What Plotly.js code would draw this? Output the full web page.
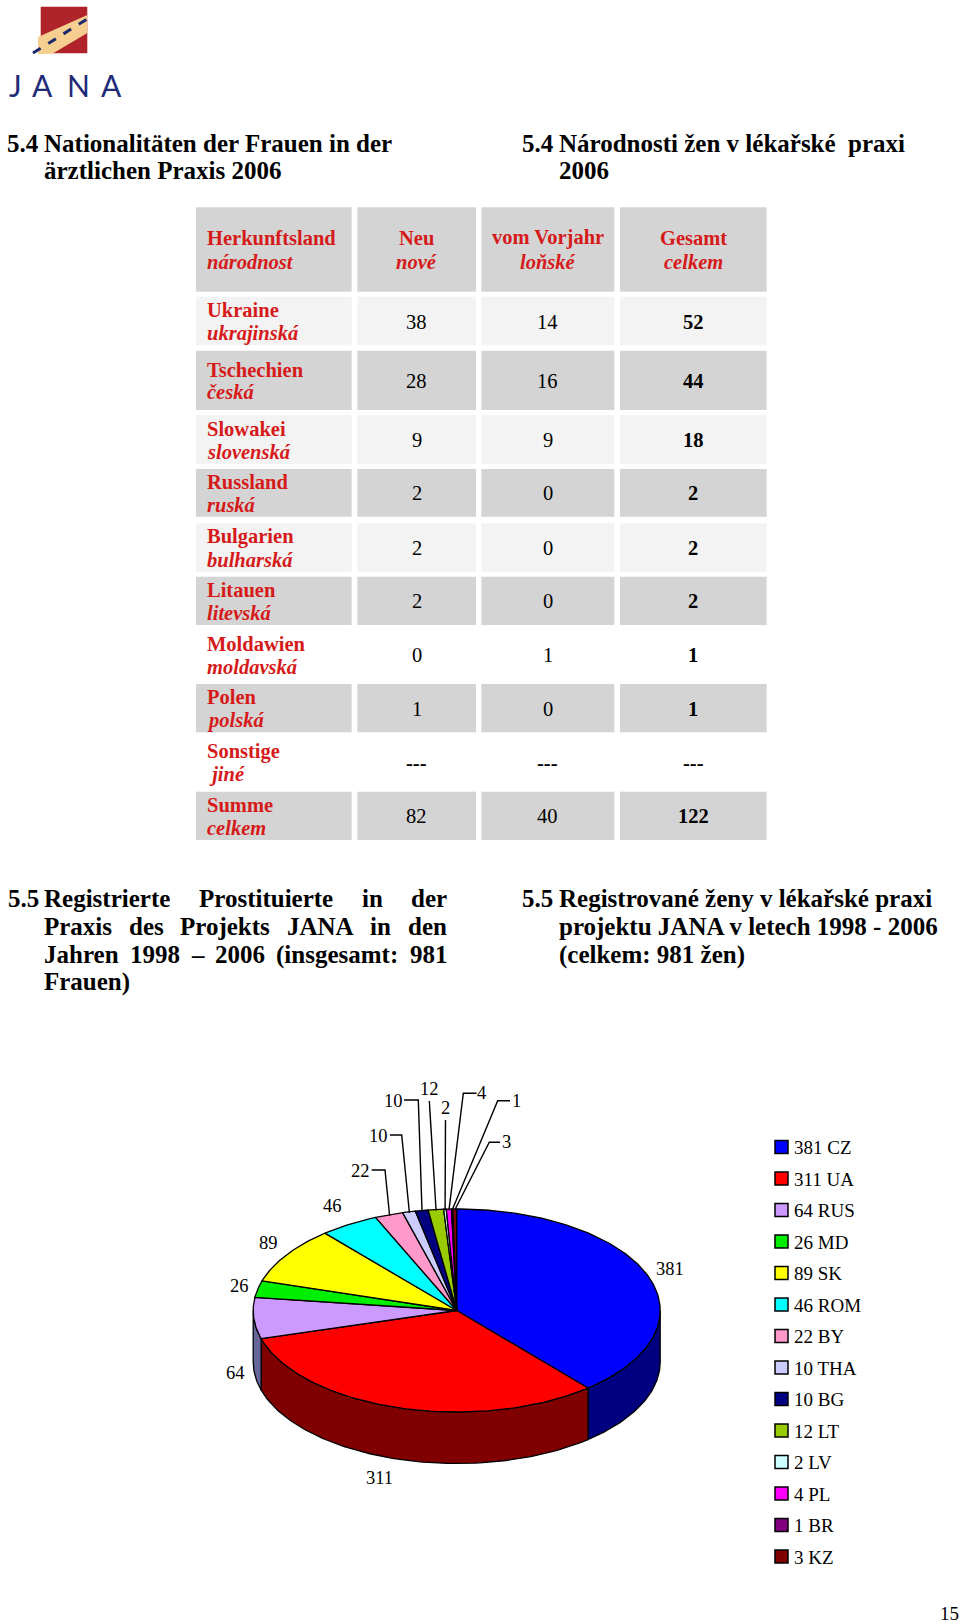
<!DOCTYPE html>
<html><head><meta charset="utf-8">
<script src="https://cdn.plot.ly/plotly-3.0.1.min.js"></script>
<style>html,body{margin:0;padding:0;background:#fff;}#chart{width:960px;height:1624px;}</style>
</head><body><div id="chart"></div>
<script>
// ---------- table data ----------
const headerDe = ["Herkunftsland", "Neu", "vom Vorjahr", "Gesamt"];
const headerCz = ["národnost", "nové", "loňské", "celkem"];
const originDe = ["Ukraine", "Tschechien", "Slowakei", "Russland", "Bulgarien", "Litauen", "Moldawien", "Polen", "Sonstige", "Summe"];
const originCz = ["ukrajinská", "česká", "slovenská", "ruská", "bulharská", "litevská", "moldavská", "polská", "&nbsp;jiné", "celkem"];
const newCount = [38, 28, 9, 2, 2, 2, 0, 1, null, 82];
const prevYear = [14, 16, 9, 0, 0, 0, 1, 0, null, 40];
const totalCount = [52, 44, 18, 2, 2, 2, 1, 1, null, 122];

// ---------- pie data ----------
const pieCodes = ["CZ", "UA", "RUS", "MD", "SK", "ROM", "BY", "THA", "BG", "LT", "LV", "PL", "BR", "KZ"];
const pieValues = [381, 311, 64, 26, 89, 46, 22, 10, 10, 12, 2, 4, 1, 3];

// ---------- styles ----------
const pieColors = ["#0000ff", "#ff0000", "#cc99ff", "#00ee00", "#ffff00", "#00ffff", "#ff99cc", "#ccccff", "#000080", "#99cc00", "#ccffff", "#ff00ff", "#800080", "#800000"];
const pieSideColors = ["#000080", "#800000", "#66669a", "#007700", "#808000", "#008080", "#804c66", "#666680", "#000040", "#4c6600", "#668080", "#800080", "#400040", "#400000"];
const SERIF = '"Liberation Serif", "Times New Roman", serif';
const RED = "#d61a1a", GRAY = "#d4d4d4", LIGHT = "#f3f3f3", WHITE = "#ffffff";

// ---------- layout geometry (pixels) ----------
const tableCols = [[196, 351.7], [357.3, 476], [481.3, 614.3], [620, 766.7]];
const tableHeader = [207.3, 291.7];
const tableRows = [[296.7, 345.3], [350.7, 410], [415, 464], [469, 516.7], [523.3, 571.7], [576.7, 625], [630, 679], [684, 732.3], [737.3, 786.7], [791.7, 840]];
const rowFills = [LIGHT, GRAY, LIGHT, GRAY, LIGHT, GRAY, WHITE, GRAY, WHITE, GRAY];
const PIE = {cx: 456.7, cy: 1310.5, rx: 203.5, ry: 101.5, depth: 51.5};
const labelPos = [[670, 1269], [379, 1478], [235, 1372.5], [239.5, 1286.3], [268.8, 1243.3], [332.5, 1205.8], [360, 1170.7], [378.3, 1136], [393.3, 1100.7], [429.3, 1089.3], [445, 1108.3], [481.7, 1093.3], [516, 1100.7], [506.7, 1141.7]];
const leaderPts = {6: [[371.7, 1170], [385, 1170]], 7: [[390, 1135], [401.7, 1135]], 8: [[404, 1100], [418.3, 1100]], 9: [[429.3, 1101]], 10: [[445.5, 1120]], 11: [[476.5, 1093.3], [463.3, 1093.3]], 12: [[510, 1100.7], [497.7, 1100.7]], 13: [[500, 1142.3], [489.3, 1142.3]]};
const legendX = 775, legendY0 = 1147, legendStep = 31.5;

const shapes = [], annotations = [], traces = [];
function A(x, y, text, o) {
  o = o || {};
  annotations.push({xref: "x", yref: "y", x: x, y: y, text: text, showarrow: false,
    xanchor: o.anchor || "left", yanchor: "middle", borderpad: 0,
    font: {family: o.family || SERIF, size: o.size || 20.5, color: o.color || "#000", weight: o.weight}});
}
const ctx = document.createElement("canvas").getContext("2d");
function measure(t, size) { ctx.font = "bold " + size + "px \"Liberation Serif\""; return ctx.measureText(t).width; }
function justify(words, x0, x1, y, size) {
  const ws = words.map(w => measure(w, size));
  const gap = (x1 - x0 - ws.reduce((a, b) => a + b, 0)) / (words.length - 1);
  let x = x0;
  words.forEach((w, i) => { A(x, y, "<b>" + w + "</b>", {size: size}); x += ws[i] + gap; });
}

// ---------- logo ----------
shapes.push({type: "rect", xref: "x", yref: "y", x0: 40.7, x1: 87.3, y0: 6.7, y1: 53.3, fillcolor: "#b0232b", line: {width: 0}, layer: "below"});
shapes.push({type: "path", xref: "x", yref: "y", path: "M 38 37 L 87.3 15 L 87.3 33 L 52 54 L 38 54 Z", fillcolor: "#f6cf90", line: {width: 0}, layer: "below"});
shapes.push({type: "line", xref: "x", yref: "y", x0: 33, y0: 53, x1: 88, y1: 18.5, line: {color: "#1d2a6b", width: 3, dash: "dash"}, layer: "below"});
[["J", 15], ["A", 42], ["N", 78], ["A", 111]].forEach(l => A(l[1], 85, l[0], {size: 30, color: "#1f2b78", anchor: "center", family: "Lato", weight: 400}));

// ---------- headings ----------
const H = 25;
A(6, 143.3, "<b>5.4</b>", {size: H});
A(43, 143.3, "<b>Nationalitäten der Frauen in der</b>", {size: H});
A(43, 170.9, "<b>ärztlichen Praxis 2006</b>", {size: H});
A(521, 143.3, "<b>5.4</b>", {size: H});
A(558, 143.3, "<b>Národnosti žen v lékařské&nbsp; praxi</b>", {size: H});
A(558, 170.9, "<b>2006</b>", {size: H});

A(6.7, 898.3, "<b>5.5</b>", {size: H});
justify(["Registrierte", "Prostituierte", "in", "der"], 43, 446, 898.3, H);
justify(["Praxis", "des", "Projekts", "JANA", "in", "den"], 43, 446, 926.6, H);
justify(["Jahren", "1998", "–", "2006", "(insgesamt:", "981"], 43, 446, 954.9, H);
A(43, 981.6, "<b>Frauen)</b>", {size: H});
A(521, 898.3, "<b>5.5</b>", {size: H});
A(558, 898.3, "<b>Registrované ženy v lékařské praxi</b>", {size: H});
A(558, 926.6, "<b>projektu JANA v letech 1998 - 2006</b>", {size: H});
A(558, 954.9, "<b>(celkem: 981 žen)</b>", {size: H});

// ---------- table ----------
function cellRect(c, r, fill) {
  shapes.push({type: "rect", xref: "x", yref: "y", x0: tableCols[c][0], x1: tableCols[c][1], y0: r[0], y1: r[1], fillcolor: fill, line: {width: 0}, layer: "below"});
}
const hc = (tableHeader[0] + tableHeader[1]) / 2;
headerDe.forEach((h, c) => {
  cellRect(c, tableHeader, GRAY);
  const x = c === 0 ? 206 : (tableCols[c][0] + tableCols[c][1]) / 2;
  const anc = c === 0 ? "left" : "center";
  A(x, hc - 11.7, "<b>" + h + "</b>", {color: RED, anchor: anc});
  A(x, hc + 12.3, "<b><i>" + headerCz[c] + "</i></b>", {color: RED, anchor: anc});
});
const cols = [newCount, prevYear, totalCount];
originDe.forEach((name, i) => {
  const r = tableRows[i], rc = (r[0] + r[1]) / 2;
  for (let c = 0; c < 4; c++) cellRect(c, r, rowFills[i]);
  A(206, rc - 10.8, "<b>" + name + "</b>", {color: RED});
  A(206, rc + 12, "<b><i>" + originCz[i] + "</i></b>", {color: RED});
  cols.forEach((arr, k) => {
    const v = arr[i];
    let t = v === null ? "<b>---</b>" : String(v);
    if (k === 2 && v !== null) t = "<b>" + t + "</b>";
    A((tableCols[k + 1][0] + tableCols[k + 1][1]) / 2, rc + 0.5, t, {anchor: "center"});
  });
});

// ---------- 3D pie ----------
const total = pieValues.reduce((a, b) => a + b, 0);
let cum = 0;
const slices = pieValues.map(v => { const a0 = cum / total * 2 * Math.PI; cum += v; return [a0, cum / total * 2 * Math.PI]; });
const px = (t, k) => PIE.cx + PIE.rx * (k || 1) * Math.sin(t);
const py = (t, k) => PIE.cy - PIE.ry * (k || 1) * Math.cos(t);
function arc(a0, a1, dy) {
  const n = Math.max(2, Math.ceil((a1 - a0) / (Math.PI / 180)));
  const xs = [], ys = [];
  for (let i = 0; i <= n; i++) { const t = a0 + (a1 - a0) * i / n; xs.push(px(t)); ys.push(py(t) + dy); }
  return [xs, ys];
}
function poly(xs, ys, fill) {
  xs.push(xs[0]); ys.push(ys[0]);
  traces.push({type: "scatter", mode: "lines", x: xs, y: ys, fill: "toself", fillcolor: fill,
    line: {color: "#000", width: 1.3}, hoverinfo: "skip", showlegend: false});
}
slices.forEach((s, i) => {
  const a = Math.max(s[0], Math.PI / 2), b = Math.min(s[1], 1.5 * Math.PI);
  if (b > a) {
    const top = arc(a, b, 0), bot = arc(a, b, PIE.depth);
    poly(top[0].concat(bot[0].reverse()), top[1].concat(bot[1].reverse()), pieSideColors[i]);
  }
});
slices.forEach((s, i) => {
  const ar = arc(s[0], s[1], 0);
  poly([PIE.cx].concat(ar[0]), [PIE.cy].concat(ar[1]), pieColors[i]);
});
// labels & leaders
pieValues.forEach((v, i) => {
  A(labelPos[i][0], labelPos[i][1], String(v), {size: 18.5, anchor: "center"});
  if (leaderPts[i]) {
    const mid = (slices[i][0] + slices[i][1]) / 2;
    const pts = leaderPts[i].concat([[px(mid, 0.99), py(mid, 0.99)]]);
    traces.push({type: "scatter", mode: "lines", x: pts.map(p => p[0]), y: pts.map(p => p[1]),
      line: {color: "#000", width: 1.4}, hoverinfo: "skip", showlegend: false});
  }
});
// legend
pieCodes.forEach((code, i) => {
  const y = legendY0 + i * legendStep;
  shapes.push({type: "rect", xref: "x", yref: "y", x0: legendX, x1: legendX + 13, y0: y - 6.5, y1: y + 6.5,
    fillcolor: pieColors[i], line: {color: "#000", width: 1.5}});
  A(legendX + 18, y + 0.5, pieValues[i] + " " + code, {size: 19});
});

// page number
A(949, 1613, "15", {size: 19, anchor: "center"});

Plotly.newPlot("chart", traces, {
  width: 960, height: 1624, margin: {l: 0, r: 0, t: 0, b: 0},
  paper_bgcolor: "#fff", plot_bgcolor: "#fff", showlegend: false,
  xaxis: {range: [0, 960], visible: false, fixedrange: true},
  yaxis: {range: [1624, 0], visible: false, fixedrange: true},
  shapes: shapes, annotations: annotations
}, {staticPlot: true});
</script></body></html>
